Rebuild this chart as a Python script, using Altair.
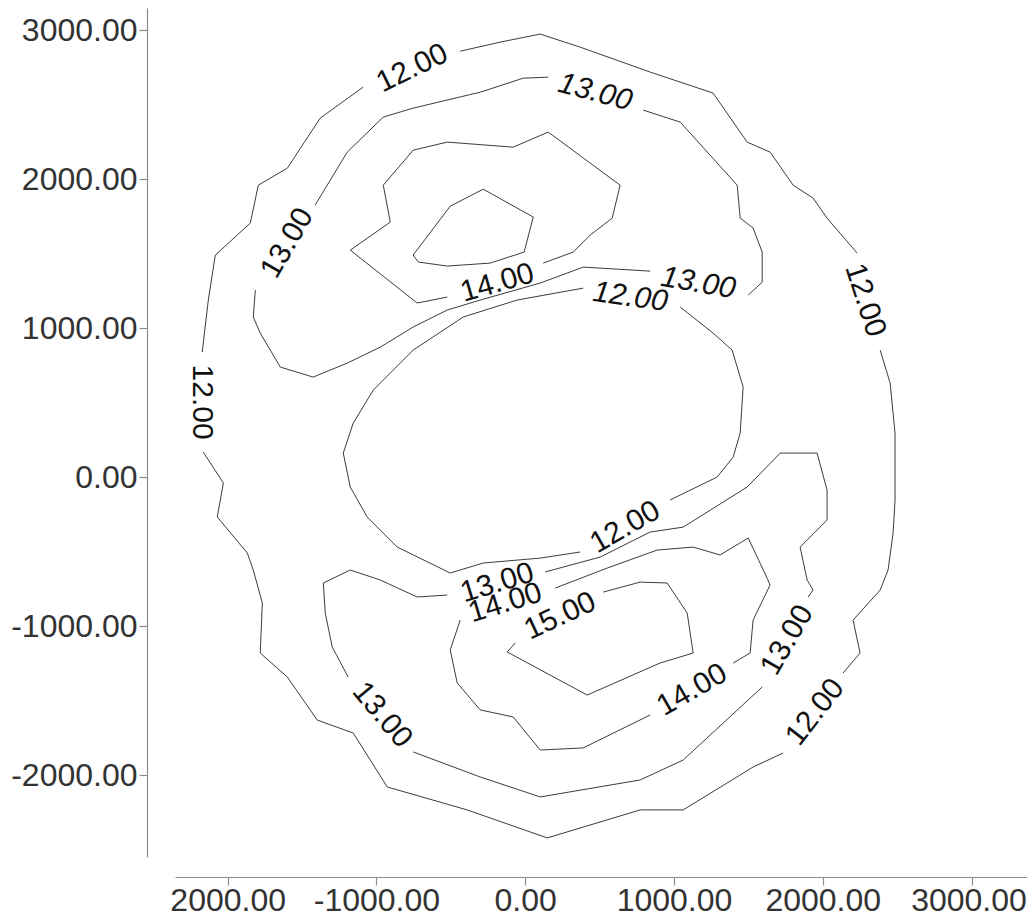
import altair as alt
import pandas as pd

# ---- contour polylines (data units), split where labels interrupt the line ----
OUTER12_A = [(-437, 2858), (-168, 2919), (101, 2973), (370, 2885), (840, 2718), (1263, 2577),
             (1492, 2248), (1646, 2181), (1801, 1959), (1935, 1872), (2029, 1738), (2231, 1503)]
OUTER12_B = [(2386, 852), (2453, 631), (2486, 295), (2486, -154), (2473, -376), (2439, -624),
             (2386, -758), (2204, -960), (2251, -1181), (2137, -1315)]
OUTER12_C = [(1734, -1852), (1532, -1946), (1062, -2234), (773, -2234), (148, -2422), (-390, -2234),
             (-927, -2080), (-1156, -1718), (-1398, -1631), (-1599, -1342), (-1781, -1181),
             (-1767, -845), (-1828, -624), (-1868, -510), (-2070, -268), (-2029, -40), (-2164, 168)]
OUTER12_D = [(-2171, 839), (-2130, 1188), (-2083, 1490), (-1848, 1704), (-1794, 1959),
             (-1599, 2073), (-1378, 2409), (-1089, 2617)]

UPPER13_A = [(793, 2463), (1042, 2382), (1425, 1959), (1445, 1738), (1532, 1671), (1593, 1510),
             (1593, 1308), (1499, 1221)]
UPPER13_B = [(840, 1382), (390, 1409), (101, 1302), (-302, 1188), (-524, 1121), (-753, 1007),
             (-974, 872), (-1196, 765), (-1425, 671), (-1646, 738), (-1781, 966), (-1828, 1074),
             (-1814, 1255)]
UPPER13_C = [(-1412, 1825), (-1196, 2181), (-954, 2416), (-753, 2476), (-302, 2583), (-13, 2677),
             (155, 2684)]

UPPER14_A = [(121, 1436), (323, 1510), (437, 1624), (585, 1738), (638, 1959), (155, 2315),
             (-81, 2214), (-524, 2248), (-753, 2194), (-954, 1959), (-907, 1711), (-1176, 1523),
             (-726, 1168), (-524, 1208)]

UPPER15 = [(-753, 1490), (-504, 1818), (-282, 1932), (54, 1745), (-7, 1510), (-235, 1436),
           (-524, 1416), (-719, 1443), (-753, 1490)]

INNER12_A = [(1042, 1141), (1263, 966), (1391, 852), (1465, 604), (1445, 295), (1398, 134),
             (1290, 0), (974, -154)]
INNER12_B = [(370, -503), (101, -544), (-282, -577), (-504, -644), (-860, -470), (-1062, -268),
             (-1176, -67), (-1223, 161), (-1156, 362), (-1021, 584), (-753, 852), (-417, 1074),
             (-54, 1188), (390, 1268)]

LOWER13_A = [(134, -637), (504, -537), (840, -369), (1062, -336), (1492, -67), (1714, 161),
             (1962, 161), (2029, -87), (2029, -289), (1848, -470), (1895, -691), (1935, -758),
             (1902, -805)]
LOWER13_B = [(1593, -1409), (1062, -1899), (773, -2033), (101, -2147), (-302, -2013), (-753, -1845)]
LOWER13_C = [(-1190, -1342), (-1297, -1141), (-1344, -913), (-1357, -711), (-1176, -624),
             (-974, -691), (-726, -805), (-524, -792)]

LOWER14_A = [(202, -745), (551, -611), (887, -490), (1129, -470), (1310, -523), (1499, -409),
             (1626, -678), (1646, -725), (1532, -960), (1512, -1181), (1398, -1248)]
LOWER14_B = [(840, -1597), (390, -1818), (101, -1832), (-81, -1610), (-302, -1563), (-457, -1382),
             (-504, -1161), (-437, -960)]

LOWER15 = [(524, -772), (773, -705), (954, -711), (1089, -913), (1129, -1181), (907, -1248),
           (417, -1463), (-121, -1174), (-67, -1114)]

SEGMENTS = {
    "outer12_a": OUTER12_A, "outer12_b": OUTER12_B, "outer12_c": OUTER12_C, "outer12_d": OUTER12_D,
    "upper13_a": UPPER13_A, "upper13_b": UPPER13_B, "upper13_c": UPPER13_C,
    "upper14_a": UPPER14_A, "upper15": UPPER15,
    "inner12_a": INNER12_A, "inner12_b": INNER12_B,
    "lower13_a": LOWER13_A, "lower13_b": LOWER13_B, "lower13_c": LOWER13_C,
    "lower14_a": LOWER14_A, "lower14_b": LOWER14_B, "lower15": LOWER15,
}

# ---- contour labels ----
LABEL_TEXT = ["12.00", "13.00", "13.00", "14.00", "12.00", "13.00", "12.00", "12.00",
              "12.00", "13.00", "14.00", "15.00", "13.00", "14.00", "13.00", "12.00"]
LABEL_X = [-759, 470, -1599, -188, 706, 1163, 2285, -2171,
           672, -188, -134, 235, -961, 1122, 1761, 1949]
LABEL_Y = [2744, 2583, 1570, 1302, 1208, 1302, 1188, 503,
           -336, -711, -845, -933, -1597, -1429, -1094, -1577]
LABEL_ANGLE = [334, 15, 300, 344, 8, 10, 72, 90,
               330, 343, 343, 335, 50, 330, 300, 308]
LABEL_ITALIC = [False, True, False, False, True, True, False, False,
                False, False, False, False, False, False, False, False]

TICKS = [-2000, -1000, 0, 1000, 2000, 3000]
X_DOMAIN = [-2354, 3373]
Y_DOMAIN = [-2550, 3148]

rows = []
for name, pts in SEGMENTS.items():
    for i, (x, y) in enumerate(pts):
        rows.append({"seg": name, "i": i, "x": x, "y": y})
lines_df = pd.DataFrame(rows)

labels_df = pd.DataFrame({
    "text": LABEL_TEXT, "x": LABEL_X, "y": LABEL_Y,
    "angle": LABEL_ANGLE, "italic": LABEL_ITALIC,
})

FONT = "Liberation Sans"

xscale = alt.Scale(domain=X_DOMAIN, nice=False, zero=False)
yscale = alt.Scale(domain=Y_DOMAIN, nice=False, zero=False)

# hyphen-minus as in the reference; the left-most x label shows without its sign (cropped there)
xaxis = alt.Axis(values=TICKS, offset=20, labelPadding=0,
                 labelOffset={"condition": {"test": "datum.value == 3000", "value": -3}, "value": 0},
                 labelExpr="datum.value == -2000 ? '2000.00' : "
                           "(datum.value < 0 ? '-' : '') + format(abs(datum.value), '.2f')")
yaxis = alt.Axis(values=TICKS, offset=28, labelPadding=2,
                 labelExpr="(datum.value < 0 ? '-' : '') + format(abs(datum.value), '.2f')")

lines = alt.Chart(lines_df).mark_line(color="#3c3c3c", strokeWidth=1).encode(
    x=alt.X("x:Q", scale=xscale, axis=xaxis, title=None),
    y=alt.Y("y:Q", scale=yscale, axis=yaxis, title=None),
    detail="seg:N",
    order="i:Q",
)

text_base = alt.Chart(labels_df).encode(
    x=alt.X("x:Q", scale=xscale),
    y=alt.Y("y:Q", scale=yscale),
    text="text:N",
    angle=alt.Angle("angle:Q", scale=None),
)
text_normal = text_base.transform_filter("!datum.italic").mark_text(
    font=FONT, fontSize=30, color="#111111", align="center", baseline="middle")
text_italic = text_base.transform_filter("datum.italic").mark_text(
    font=FONT, fontSize=30, color="#111111", align="center", baseline="middle", fontStyle="italic")

chart = alt.layer(lines, text_normal, text_italic).properties(
    width=852, height=849,
    autosize=alt.AutoSizeParams(type="none"),
    padding={"left": 167, "top": 0, "right": 0, "bottom": 62},
).configure_view(strokeWidth=0).configure_axis(
    labelFont=FONT, labelFontSize=32, labelColor="#333333",
    domainColor="#8c8c8c", tickColor="#8c8c8c", domainWidth=1.2, tickWidth=1.2,
    tickSize=8, grid=False, labelFlush=False, labelOverlap=False,
)

chart.save("out.html", embed_options={"renderer": "svg", "actions": False})
